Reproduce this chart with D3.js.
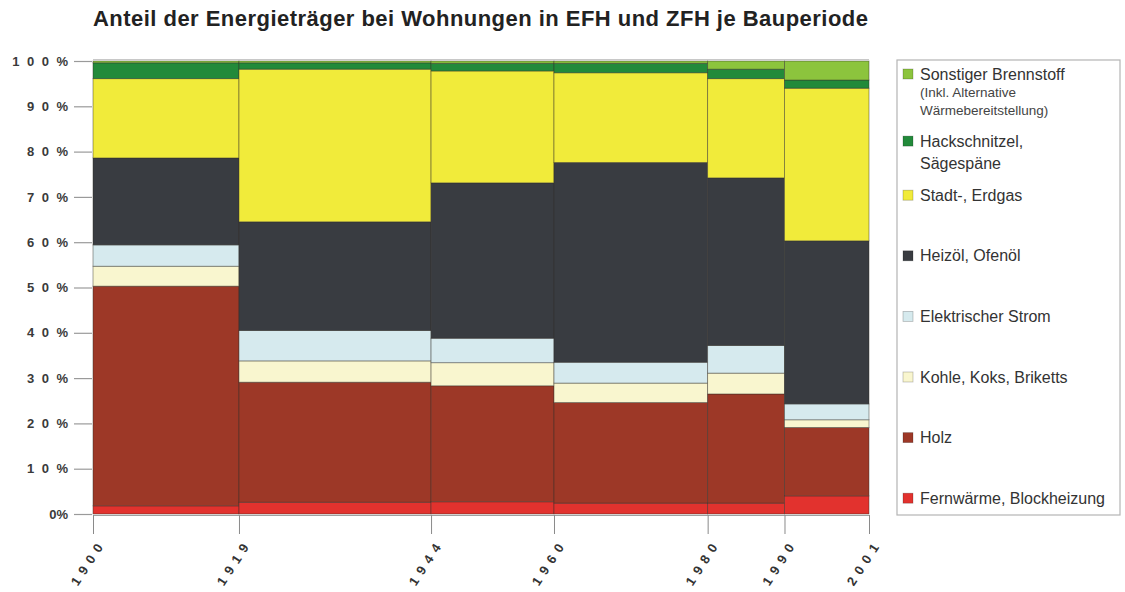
<!DOCTYPE html>
<html>
<head>
<meta charset="utf-8">
<script src="https://cdn.jsdelivr.net/npm/d3@7"></script>
<style>
  body { margin: 0; background: #fff; }
  svg { font-family: "Liberation Sans", Arial, sans-serif; }
</style>
</head>
<body>
<div id="chart"></div>
<script>
// periods (bar edges) and share of each energy carrier per period, in %
const years = [1900, 1919, 1944, 1960, 1980, 1990, 2001];
const yTicks = [0, 10, 20, 30, 40, 50, 60, 70, 80, 90, 100];

// stacked bottom -> top
const fernwaerme = [1.8, 2.6, 2.7, 2.4, 2.4, 4.0];
const holz       = [48.5, 26.5, 25.6, 22.2, 24.1, 15.1];
const kohle      = [4.4, 4.7, 5.1, 4.3, 4.6, 1.7];
const strom      = [4.7, 6.7, 5.4, 4.6, 6.1, 3.5];
const heizoel    = [19.2, 24.0, 34.3, 44.1, 37.0, 36.0];
const gas        = [17.5, 33.7, 24.7, 19.8, 21.9, 33.7];
const hack       = [3.5, 1.4, 1.7, 2.1, 2.1, 1.8];
const sonstiger  = [0.4, 0.4, 0.5, 0.5, 1.8, 4.2];

const series = [
  { key: 'fern', values: fernwaerme, color: '#e2322e', label: ['Fernwärme, Blockheizung'] },
  { key: 'holz', values: holz, color: '#9d3827', label: ['Holz'] },
  { key: 'kohle', values: kohle, color: '#f9f6cf', label: ['Kohle, Koks, Briketts'] },
  { key: 'strom', values: strom, color: '#d6eaee', label: ['Elektrischer Strom'] },
  { key: 'oel', values: heizoel, color: '#393c41', label: ['Heizöl, Ofenöl'] },
  { key: 'gas', values: gas, color: '#f1eb3a', label: ['Stadt-, Erdgas'] },
  { key: 'hack', values: hack, color: '#228a3a', label: ['Hackschnitzel,', 'Sägespäne'] },
  { key: 'sonst', values: sonstiger, color: '#8cc43d', label: ['Sonstiger Brennstoff'], sub: ['(Inkl. Alternative', 'Wärmebereitstellung)'] }
];

const W = 1125, H = 592;
const plot = { left: 93, right: 869, top: 61, bottom: 514 };

const svg = d3.select('#chart').append('svg')
  .attr('width', W)
  .attr('height', H);

const x = d3.scaleLinear().domain([years[0], years[years.length - 1]]).range([plot.left, plot.right]);
const y = d3.scaleLinear().domain([0, 100]).range([plot.bottom, plot.top]);

// title
svg.append('text')
  .attr('x', plot.left)
  .attr('y', 26)
  .attr('font-size', 22)
  .attr('font-weight', 'bold')
  .attr('fill', '#222')
  .attr('textLength', 775)
  .attr('lengthAdjust', 'spacing')
  .text('Anteil der Energieträger bei Wohnungen in EFH und ZFH je Bauperiode');

// faint frame line on top
svg.append('line')
  .attr('x1', plot.left).attr('x2', plot.right)
  .attr('y1', y(100) - 1.5).attr('y2', y(100) - 1.5)
  .attr('stroke', '#c8c8c8');

// build stacked segments
const segments = [];
years.slice(0, -1).forEach((start, i) => {
  let cum = 0;
  series.forEach(s => {
    const v = s.values[i];
    segments.push({ x0: start, x1: years[i + 1], y0: cum, y1: cum + v, color: s.color });
    cum += v;
  });
});

svg.append('g').attr('class', 'bars')
  .selectAll('rect')
  .data(segments)
  .enter()
  .append('rect')
  .attr('x', d => x(d.x0))
  .attr('width', d => x(d.x1) - x(d.x0))
  .attr('y', d => y(d.y1))
  .attr('height', d => y(d.y0) - y(d.y1))
  .attr('fill', d => d.color)
  .attr('stroke', 'rgba(50,45,40,0.55)')
  .attr('stroke-width', 0.8);

// x axis
const xAxis = svg.append('g')
  .attr('class', 'axis x')
  .attr('transform', `translate(0, ${plot.bottom + 1})`)
  .call(d3.axisBottom(x).tickValues(years).tickSize(19).tickFormat(d3.format('d')));
xAxis.select('.domain').attr('stroke', '#a0a0a0');
xAxis.selectAll('.tick line').attr('stroke', '#8a8a8a');
xAxis.selectAll('.tick text')
  .attr('font-size', 13)
  .attr('font-weight', 'bold')
  .attr('fill', '#333')
  .attr('letter-spacing', '6px')
  .attr('text-anchor', 'end')
  .attr('y', 0)
  .attr('dy', '0.35em')
  .attr('dx', '6px')
  .attr('transform', 'translate(6, 30) rotate(-57)');

// y axis
const yAxis = svg.append('g')
  .attr('class', 'axis y')
  .attr('transform', `translate(${plot.left - 1}, 0)`)
  .call(d3.axisLeft(y).tickValues(yTicks).tickSize(18).tickPadding(6));
yAxis.select('.domain').remove();
yAxis.selectAll('.tick line').attr('stroke', '#9a9a9a').attr('stroke-width', 1.2);
yAxis.selectAll('.tick text')
  .attr('font-size', 13)
  .attr('font-weight', 'bold')
  .attr('fill', '#3a3a3a')
  .attr('letter-spacing', d => d === 0 ? '0px' : '7.5px')
  .attr('dx', d => d === 0 ? 0 : 7.5)
  .text(d => String(d) + '%');

// legend
const legend = { left: 897, top: 60, right: 1120, bottom: 515, rowStep: 60.6, firstRow: 74 };
svg.append('rect')
  .attr('x', legend.left).attr('y', legend.top)
  .attr('width', legend.right - legend.left).attr('height', legend.bottom - legend.top)
  .attr('fill', '#fff').attr('stroke', '#b4b4b4').attr('stroke-width', 1.2);

const legendItems = series.slice().reverse();
const lg = svg.append('g').attr('class', 'legend')
  .selectAll('g')
  .data(legendItems)
  .enter()
  .append('g')
  .attr('transform', (d, i) => `translate(${legend.left + 6}, ${legend.firstRow + i * legend.rowStep + (d.key === 'hack' ? 6.5 : 0)})`);

lg.append('rect')
  .attr('x', 0).attr('y', -5)
  .attr('width', 10).attr('height', 10)
  .attr('fill', d => d.color)
  .attr('stroke', 'rgba(0,0,0,0.25)')
  .attr('stroke-width', 0.8);

lg.each(function (d) {
  const g = d3.select(this);
  d.label.forEach((line, j) => {
    g.append('text')
      .attr('x', 17).attr('y', j * 22)
      .attr('dy', '0.35em')
      .attr('font-size', 16)
      .attr('fill', '#333')
      .text(line);
  });
  (d.sub || []).forEach((line, j) => {
    g.append('text')
      .attr('x', 17).attr('y', 18 + j * 18)
      .attr('dy', '0.35em')
      .attr('font-size', 13.5)
      .attr('fill', '#444')
      .text(line);
  });
});
</script>
</body>
</html>
